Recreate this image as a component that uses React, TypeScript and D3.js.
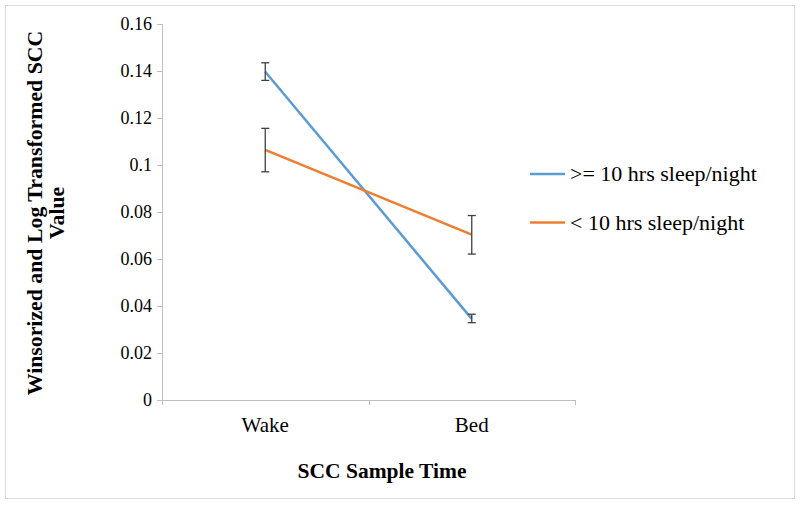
import React from "react";
import * as d3 from "d3";

const categories = ["Wake", "Bed"];
const seriesNames = [">= 10 hrs sleep/night", "< 10 hrs sleep/night"];
const seriesColors = ["#5B9BD5", "#ED7D31"];
const highSleepValues = [0.1397, 0.0345];
const highSleepLow = [0.136, 0.0329];
const highSleepHigh = [0.1435, 0.0365];
const lowSleepValues = [0.1064, 0.0704];
const lowSleepLow = [0.0971, 0.0621];
const lowSleepHigh = [0.1156, 0.0785];
const yTicks = [0, 0.02, 0.04, 0.06, 0.08, 0.1, 0.12, 0.14, 0.16];

const series = [
  { name: seriesNames[0], color: seriesColors[0], values: highSleepValues, lo: highSleepLow, hi: highSleepHigh },
  { name: seriesNames[1], color: seriesColors[1], values: lowSleepValues, lo: lowSleepLow, hi: lowSleepHigh },
];

const W = 800;
const H = 507;
const plot = { left: 162, right: 575, top: 24, bottom: 400 };
const font = "Liberation Serif";

export default function App() {
  const y = d3.scaleLinear().domain([0, 0.16]).range([plot.bottom, plot.top]);
  const x = d3.scaleBand<string>().domain(categories).range([plot.left, plot.right]);
  const cx = (c: string) => (x(c) as number) + x.bandwidth() / 2;
  const line = d3
    .line<number>()
    .x((_, i) => cx(categories[i]))
    .y((d) => y(d));
  const xTickPos = [plot.left, ...categories.map((c) => (x(c) as number) + x.bandwidth())];
  const axisColor = "#BFBFBF";

  return (
    <svg width={W} height={H} style={{ position: "absolute", left: 0, top: 0, background: "#fff" }}>
      <rect x={5.5} y={5.5} width={789} height={493} fill="#fff" stroke="#D9D9D9" strokeWidth={1} />
      {/* y axis */}
      <line x1={plot.left + 0.5} x2={plot.left + 0.5} y1={plot.top} y2={plot.bottom} stroke={axisColor} />
      {yTicks.map((t) => (
        <g key={t}>
          <line x1={plot.left - 5} x2={plot.left} y1={Math.round(y(t)) + 0.5} y2={Math.round(y(t)) + 0.5} stroke={axisColor} />
          <text x={plot.left - 10} y={y(t) + 6} textAnchor="end" fontFamily={font} fontSize={18} fill="#000">
            {String(t)}
          </text>
        </g>
      ))}
      {/* x axis */}
      <line x1={plot.left} x2={plot.right} y1={plot.bottom + 0.5} y2={plot.bottom + 0.5} stroke={axisColor} />
      {xTickPos.map((p, i) => (
        <line key={i} x1={Math.round(p) + 0.5} x2={Math.round(p) + 0.5} y1={plot.bottom} y2={plot.bottom + 5} stroke={axisColor} />
      ))}
      {categories.map((c) => (
        <text key={c} x={cx(c)} y={432} textAnchor="middle" fontFamily={font} fontSize={21} fill="#000">
          {c}
        </text>
      ))}
      {/* series lines */}
      {series.map((s) => (
        <path key={s.name} d={line(s.values) || ""} fill="none" stroke={s.color} strokeWidth={2.5} />
      ))}
      {/* error bars */}
      {series.map((s) =>
        categories.map((c, i) => {
          const px = cx(c);
          return (
            <g key={s.name + c} stroke="#404040" strokeWidth={1.3}>
              <line x1={px} x2={px} y1={y(s.hi[i])} y2={y(s.lo[i])} />
              <line x1={px - 4} x2={px + 4} y1={y(s.hi[i])} y2={y(s.hi[i])} />
              <line x1={px - 4} x2={px + 4} y1={y(s.lo[i])} y2={y(s.lo[i])} />
            </g>
          );
        })
      )}
      {/* legend */}
      {series.map((s, i) => (
        <g key={s.name} transform={`translate(530, ${174 + i * 48.5})`}>
          <line x1={0} x2={35} y1={0} y2={0} stroke={s.color} strokeWidth={2.5} />
          <text x={40} y={7} fontFamily={font} fontSize={22} fill="#000">
            {s.name}
          </text>
        </g>
      ))}
      {/* axis titles */}
      <text x={382} y={478} textAnchor="middle" fontFamily={font} fontSize={21.5} fontWeight="bold" fill="#000">
        SCC Sample Time
      </text>
      <text transform="translate(42, 213) rotate(-90)" textAnchor="middle" fontFamily={font} fontSize={21.8} fontWeight="bold" fill="#000">
        Winsorized and Log Transformed SCC
      </text>
      <text transform="translate(64, 213) rotate(-90)" textAnchor="middle" fontFamily={font} fontSize={21.8} fontWeight="bold" fill="#000">
        Value
      </text>
    </svg>
  );
}
